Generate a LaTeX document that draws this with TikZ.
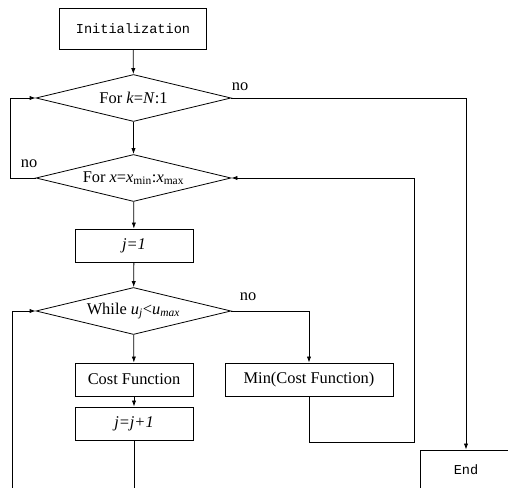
\documentclass[tikz,border=0pt]{standalone}
\usepackage{fontspec}
\setmainfont{Liberation Serif}
\setmonofont{Liberation Mono}
\usetikzlibrary{arrows.meta,shapes.geometric}
\begin{document}
\begin{tikzpicture}[x=0.75pt,y=-0.75pt,
  line width=0.6pt,
  every node/.style={font=\fontsize{12.3}{14}\selectfont},
  box/.style={draw,rectangle,inner sep=0pt,minimum width=88.5pt,minimum height=24.75pt},
  dec/.style={draw,diamond,aspect=4,inner sep=0pt,minimum width=146.25pt,minimum height=35.25pt},
  arr/.style={-{Latex[length=4.5pt,width=3.2pt]}},
  lab/.style={font=\fontsize{12.3}{14}\selectfont}]
\useasboundingbox (0,0) rectangle (508,488);
\node[box,minimum width=110.25pt,minimum height=30.75pt,font=\ttfamily\fontsize{10.2}{12}\selectfont] (init) at (133,28.5) {Initialization};
\node[dec] (d1) at (133.5,98) {For \textit{k}=\textit{N}:1};
\node[dec] (d2) at (133.5,178) {For \textit{x}=\textit{x}\textsubscript{min}:\textit{x}\textsubscript{max}};
\node[box] (j1) at (134,245.5) {\textit{j=1}};
\node[dec] (d3) at (133.5,311) {While \textit{u\textsubscript{j}}<\textit{u\textsubscript{max}}};
\node[box] (cost) at (134,379.5) {Cost Function};
\node[box] (jj) at (134,423.5) {\textit{j=j+1}};
\node[box,minimum width=126pt] (minb) at (309,379.5) {Min(Cost Function)};
\node[box,minimum width=69pt,minimum height=30pt,font=\ttfamily\fontsize{10.2}{12}\selectfont] (endb) at (466,470) {End};
\node[lab] (n1) at (240,87) {no};
\node[lab] (n2) at (29,164) {no};
\node[lab] (n3) at (248,297) {no};
\coordinate (c1) at (466,98);
\coordinate (c2) at (10,98);
\coordinate (c3) at (414,442);
\coordinate (c4) at (12,500);
\draw[arr] (init) -- (d1);
\draw[arr] (d1) -- (d2);
\draw[arr] (d2) -- (j1);
\draw[arr] (j1) -- (d3);
\draw[arr] (d3) -- (cost);
\draw[arr] (cost) -- (jj);
\draw[arr] (d1.east) -- (c1) -- (endb.north);
\draw[arr] (d2.west) -| (c2) -- (d1.west);
\draw[arr] (d3.east) -| (minb.north);
\draw[arr] (minb.south) |- (c3) |- (d2.east);
\draw[arr] (jj.south) |- (c4) |- (d3.west);
\end{tikzpicture}
\end{document}
